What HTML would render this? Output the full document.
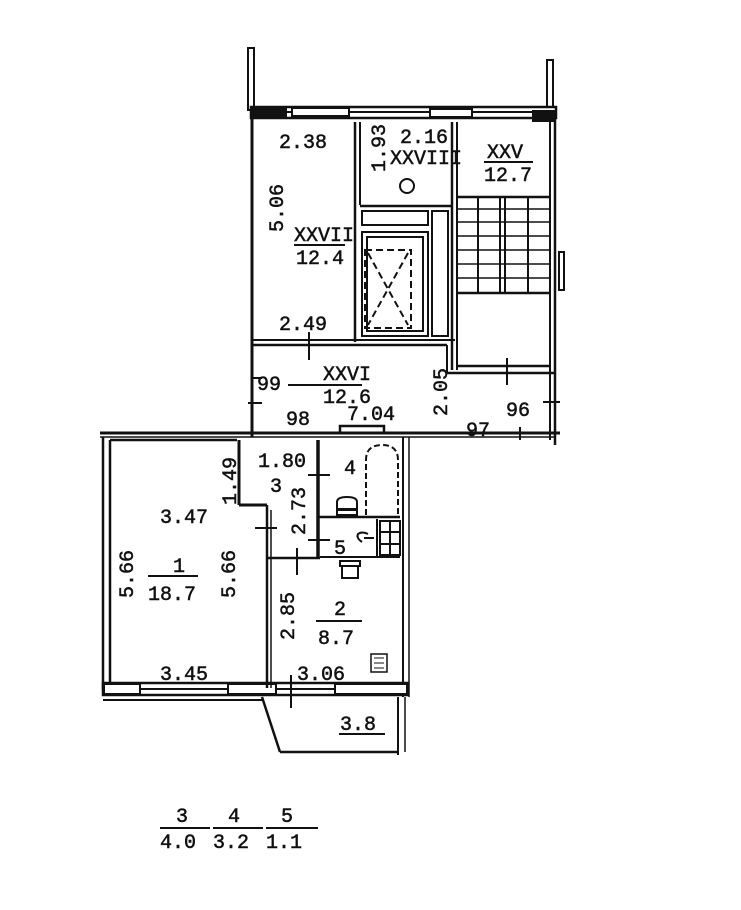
<!DOCTYPE html>
<html><head><meta charset="utf-8"><style>
html,body{margin:0;padding:0;background:#fff;}
svg{display:block}
text{font-family:"Liberation Mono",monospace;font-size:20px;fill:#111;stroke:#111;stroke-width:0.5;}
</style></head><body>
<svg width="741" height="910" viewBox="0 0 741 910" xmlns="http://www.w3.org/2000/svg">
<g stroke="#111" fill="none" stroke-width="2">
<!-- top stubs -->
<rect x="248" y="48" width="6" height="62" fill="#fff" stroke-width="2"/>
<rect x="547" y="60" width="6" height="50" fill="#fff" stroke-width="2"/>
<!-- top wall with windows -->
<rect x="251" y="107" width="305" height="11" fill="#fff" stroke-width="2.5"/>
<line x1="251" y1="112" x2="556" y2="112"/>
<rect x="292" y="108" width="57" height="8" fill="#fff"/>
<rect x="430" y="109" width="42" height="8" fill="#fff"/>
<rect x="533" y="111" width="22" height="10" fill="#111"/>
<rect x="251" y="108" width="35" height="9" fill="#111"/>
<!-- XXVII room -->
<line x1="252" y1="118" x2="252" y2="437" stroke-width="3"/>
<line x1="355" y1="122" x2="355" y2="342" stroke-width="2.5"/>
<line x1="360" y1="122" x2="360" y2="205"/>
<line x1="252" y1="340" x2="455" y2="340" stroke-width="2"/>
<line x1="252" y1="345" x2="447" y2="345" stroke-width="2.5"/>
<!-- XXVIII -->
<line x1="360" y1="206" x2="452" y2="206" stroke-width="2.5"/>
<line x1="452" y1="122" x2="452" y2="370" stroke-width="2.5"/>
<line x1="457" y1="122" x2="457" y2="370"/>
<!-- elevator -->
<rect x="362" y="211" width="66" height="14"/>
<rect x="362" y="232" width="66" height="104"/>
<rect x="367" y="237" width="56" height="94"/>
<rect x="432" y="211" width="16" height="125"/>
<g stroke-dasharray="7,4"><rect x="365" y="250" width="46" height="78"/><line x1="368" y1="253" x2="408" y2="325"/><line x1="408" y1="253" x2="368" y2="325"/></g>
<!-- stairs -->
<line x1="550" y1="122" x2="550" y2="440" stroke-width="2"/>
<line x1="555" y1="118" x2="555" y2="445" stroke-width="2.5"/>
<line x1="458" y1="197" x2="550" y2="197" stroke-width="2.5"/>
<line x1="505" y1="197" x2="505" y2="293"/>
<line x1="500" y1="197" x2="500" y2="293"/>
<line x1="478" y1="197" x2="478" y2="293"/>
<line x1="528" y1="197" x2="528" y2="293"/>
<g stroke-width="1.6">
<line x1="458" y1="209" x2="550" y2="209"/><line x1="458" y1="222" x2="550" y2="222"/><line x1="458" y1="236" x2="550" y2="236"/><line x1="458" y1="250" x2="550" y2="250"/><line x1="458" y1="264" x2="550" y2="264"/><line x1="458" y1="278" x2="550" y2="278"/>
</g>
<line x1="458" y1="293" x2="550" y2="293" stroke-width="2.5"/>
<line x1="457" y1="366" x2="550" y2="366" stroke-width="2.5"/>
<line x1="447" y1="345" x2="447" y2="373"/>
<line x1="447" y1="373" x2="555" y2="373" stroke-width="2.5"/>
<rect x="559" y="252" width="5" height="38"/>
<!-- corridor ticks -->
<line x1="309" y1="332" x2="309" y2="360"/>
<line x1="507" y1="358" x2="507" y2="385"/>
<line x1="248" y1="403" x2="262" y2="403"/>
<line x1="543" y1="402" x2="560" y2="402"/>
<line x1="253" y1="378" x2="262" y2="378"/>
<line x1="520" y1="427" x2="520" y2="440"/>
<rect x="340" y="426" width="44" height="7" fill="#fff" stroke-width="2.5"/>
<!-- apartment outer -->
<line x1="100" y1="433" x2="560" y2="433" stroke-width="3"/>
<line x1="100" y1="437" x2="555" y2="437" stroke-width="1.5"/>
<line x1="103" y1="437" x2="103" y2="690" stroke-width="2.5"/>
<line x1="110" y1="440" x2="110" y2="688" stroke-width="2.5"/>
<line x1="110" y1="440" x2="237" y2="440" stroke-width="2.5"/>
<line x1="403" y1="437" x2="403" y2="697" stroke-width="2"/>
<line x1="409" y1="437" x2="409" y2="697" stroke-width="1.5"/>
<!-- bottom wall -->
<rect x="103" y="683" width="305" height="12" fill="#fff" stroke-width="2.5"/>
<line x1="103" y1="689" x2="408" y2="689"/>
<rect x="104" y="684" width="36" height="10" fill="#fff"/>
<rect x="228" y="684" width="48" height="10" fill="#fff"/>
<rect x="335" y="684" width="72" height="10" fill="#fff"/>
<line x1="103" y1="700" x2="262" y2="700"/>
<line x1="291" y1="675" x2="291" y2="708"/>
<!-- corridor 3 walls -->
<line x1="239" y1="440" x2="239" y2="505" stroke-width="3"/>
<line x1="239" y1="505" x2="267" y2="505" stroke-width="3"/>
<line x1="267" y1="505" x2="267" y2="688" stroke-width="2.5"/>
<line x1="271" y1="510" x2="271" y2="688" stroke-width="1.5"/>
<line x1="267" y1="558" x2="320" y2="558" stroke-width="2.5"/>
<line x1="255" y1="528" x2="277" y2="528"/>
<line x1="297" y1="548" x2="297" y2="575"/>
<!-- bath/wc -->
<line x1="318" y1="440" x2="318" y2="558" stroke-width="3.5"/>
<line x1="318" y1="517" x2="400" y2="517" stroke-width="2.5"/>
<line x1="320" y1="557" x2="400" y2="557" stroke-width="2"/>
<line x1="377" y1="519" x2="377" y2="557"/>
<rect x="380" y="521" width="20" height="34"/>
<line x1="380" y1="532" x2="400" y2="532"/><line x1="380" y1="544" x2="400" y2="544"/><line x1="390" y1="521" x2="390" y2="555"/>
<line x1="308" y1="475" x2="330" y2="475"/>
<line x1="308" y1="540" x2="330" y2="540"/>
<path d="M366 515 V460 Q366 445 382 445 Q398 445 398 460 V515" stroke-dasharray="6,3"/>
<path d="M337 510 V502 Q337 497 347 497 Q357 497 357 502 V510 Z"/>
<rect x="337" y="509" width="20" height="6"/>
<rect x="340" y="561" width="20" height="5"/>
<path d="M342 566 V578 H358 V566"/>
<path d="M362 542 q-6 -4 -4 -8 q4 -3 10 0 M364 538 h10"/>
<rect x="371" y="654" width="16" height="18" stroke-width="1.5"/>
<path d="M374 658 h10 M374 663 h10 M374 668 h10" stroke-width="1"/>
<!-- balcony -->
<line x1="262" y1="697" x2="280" y2="752" stroke-width="2.5"/>
<line x1="280" y1="752" x2="398" y2="752" stroke-width="2.5"/>
<line x1="398" y1="697" x2="398" y2="755" stroke-width="2"/>
<line x1="405" y1="697" x2="405" y2="752" stroke-width="1.5"/>
<!-- fraction lines -->
<line x1="148" y1="576" x2="198" y2="576"/>
<line x1="316" y1="621" x2="362" y2="621"/>
<line x1="339" y1="734" x2="385" y2="734"/>
<line x1="288" y1="385" x2="362" y2="385"/>
<line x1="294" y1="245" x2="345" y2="245"/>
<line x1="484" y1="162" x2="533" y2="162"/>
<line x1="160" y1="828" x2="210" y2="828"/>
<line x1="213" y1="828" x2="263" y2="828"/>
<line x1="266" y1="828" x2="318" y2="828"/>
<circle cx="407" cy="186" r="7"/>
</g>
<g>
<text x="279" y="148">2.38</text>
<text x="400" y="143">2.16</text>
<text x="390" y="164" font-size="14">XXVIII</text>
<text x="487" y="158">XXV</text>
<text x="484" y="181">12.7</text>
<text x="294" y="241">XXVII</text>
<text x="296" y="264">12.4</text>
<text x="279" y="330">2.49</text>
<text x="323" y="380">XXVI</text>
<text x="323" y="403">12.6</text>
<text x="257" y="390" font-size="28">99</text>
<text x="286" y="425" font-size="28">98</text>
<text x="347" y="420">7.04</text>
<text x="466" y="436" font-size="28">97</text>
<text x="506" y="416" font-size="28">96</text>
<text x="258" y="467">1.80</text>
<text x="270" y="492">3</text>
<text x="344" y="474">4</text>
<text x="334" y="554">5</text>
<text x="160" y="523">3.47</text>
<text x="173" y="572">1</text>
<text x="148" y="600">18.7</text>
<text x="334" y="615">2</text>
<text x="318" y="644">8.7</text>
<text x="160" y="680">3.45</text>
<text x="297" y="680">3.06</text>
<text x="340" y="730">3.8</text>
<text x="176" y="822">3</text>
<text x="228" y="822">4</text>
<text x="281" y="822">5</text>
<text x="160" y="848">4.0</text>
<text x="213" y="848">3.2</text>
<text x="266" y="848">1.1</text>
<text transform="translate(385,172) rotate(-90)">1.93</text>
<text transform="translate(283,232) rotate(-90)">5.06</text>
<text transform="translate(447,416) rotate(-90)">2.05</text>
<text transform="translate(236,505) rotate(-90)">1.49</text>
<text transform="translate(305,535) rotate(-90)">2.73</text>
<text transform="translate(133,598) rotate(-90)">5.66</text>
<text transform="translate(235,598) rotate(-90)">5.66</text>
<text transform="translate(294,640) rotate(-90)">2.85</text>
</g>
</svg>
</body></html>
